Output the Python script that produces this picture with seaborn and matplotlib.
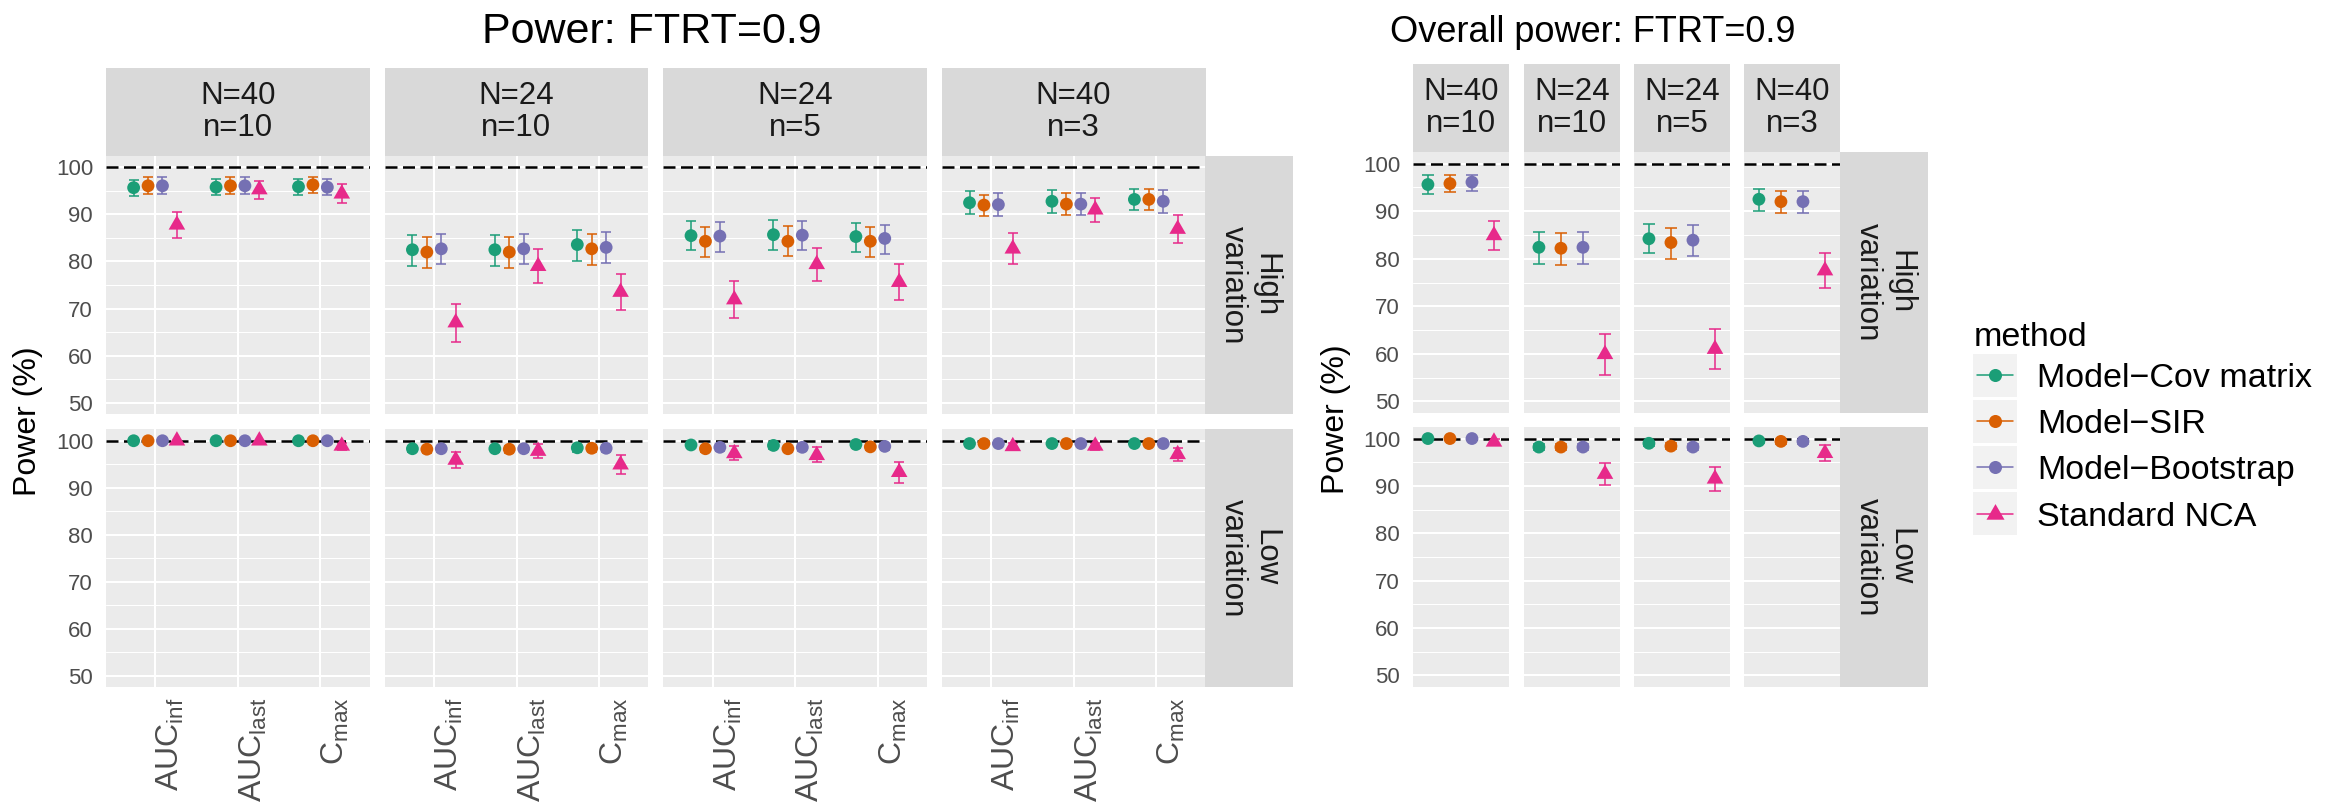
import numpy as np
import pandas as pd
import matplotlib
matplotlib.use("Agg")
import matplotlib.pyplot as plt
from matplotlib.lines import Line2D
from matplotlib.patches import Rectangle
import seaborn as sns

sns.set_style("white")
plt.rcParams["font.family"] = ["Liberation Sans", "DejaVu Sans"]
plt.rcParams["mathtext.fontset"] = "custom"
plt.rcParams["mathtext.rm"] = "Liberation Sans"
plt.rcParams["mathtext.it"] = "Liberation Sans:italic"

# ---------------------------------------------------------------- data
designs = ["N=40\nn=10", "N=24\nn=10", "N=24\nn=5", "N=40\nn=3"]
variations = ["High", "Low"]
params = [r"AUC$_{\mathrm{inf}}$", r"AUC$_{\mathrm{last}}$", r"C$_{\mathrm{max}}$"]
methods = ["Model\u2212Cov matrix", "Model\u2212SIR", "Model\u2212Bootstrap", "Standard NCA"]
colors = ["#1B9E77", "#D95F02", "#7570B3", "#E7298A"]

# Power (%) per PK parameter: one row per design, columns AUCinf, AUClast, Cmax
cov_high     = [[95.7, 95.8, 95.9], [82.5, 82.5, 83.6], [85.5, 85.7, 85.3], [92.5, 92.8, 93.2]]
cov_high_lo  = [[94.0, 94.1, 94.1], [79.1, 79.1, 80.1], [82.4, 82.5, 82.0], [90.1, 90.3, 90.9]]
cov_high_hi  = [[97.4, 97.5, 97.5], [85.7, 85.7, 86.7], [88.6, 88.8, 88.2], [94.9, 95.1, 95.5]]
sir_high     = [[96.1, 96.1, 96.3], [82.0, 82.0, 82.7], [84.3, 84.3, 84.3], [92.0, 92.2, 93.2]]
sir_high_lo  = [[94.3, 94.3, 94.6], [78.7, 78.7, 79.3], [81.0, 81.2, 81.0], [89.6, 89.8, 90.9]]
sir_high_hi  = [[97.9, 97.9, 98.0], [85.3, 85.3, 85.9], [87.3, 87.6, 87.3], [94.2, 94.5, 95.5]]
boot_high    = [[96.1, 96.1, 95.8], [82.7, 82.7, 83.0], [85.4, 85.6, 84.9], [92.1, 92.2, 92.8]]
boot_high_lo = [[94.3, 94.4, 94.1], [79.4, 79.4, 79.6], [82.1, 82.4, 81.6], [89.7, 89.8, 90.3]]
boot_high_hi = [[97.9, 97.9, 97.5], [85.9, 85.9, 86.2], [88.4, 88.6, 87.8], [94.5, 94.5, 95.1]]
nca_high     = [[87.8, 95.3, 94.4], [67.0, 79.0, 73.5], [71.9, 79.4, 75.6], [82.7, 91.0, 86.9]]
nca_high_lo  = [[84.9, 93.3, 92.4], [62.8, 75.4, 69.6], [67.9, 75.8, 71.8], [79.4, 88.4, 84.0]]
nca_high_hi  = [[90.6, 97.2, 96.5], [71.0, 82.6, 77.4], [75.8, 82.9, 79.5], [86.0, 93.4, 89.8]]

cov_low      = [[100.0, 100.0, 100.0], [98.3, 98.3, 98.5], [99.1, 99.0, 99.2], [99.4, 99.4, 99.4]]
cov_low_lo   = [[99.6, 99.6, 99.6], [97.5, 97.5, 97.7], [98.4, 98.3, 98.5], [98.8, 98.8, 98.8]]
cov_low_hi   = [[100.0, 100.0, 100.0], [98.9, 98.9, 99.1], [99.6, 99.5, 99.6], [99.8, 99.8, 99.8]]
sir_low      = [[100.0, 100.0, 100.0], [98.2, 98.2, 98.4], [98.3, 98.3, 98.7], [99.4, 99.4, 99.4]]
sir_low_lo   = [[99.6, 99.6, 99.6], [97.4, 97.4, 97.6], [97.5, 97.5, 98.0], [98.8, 98.8, 98.8]]
sir_low_hi   = [[100.0, 100.0, 100.0], [98.8, 98.8, 99.0], [98.9, 98.9, 99.3], [99.8, 99.8, 99.8]]
boot_low     = [[100.0, 100.0, 100.0], [98.3, 98.3, 98.4], [98.6, 98.6, 98.8], [99.4, 99.4, 99.4]]
boot_low_lo  = [[99.6, 99.6, 99.6], [97.5, 97.5, 97.6], [97.9, 97.9, 98.1], [98.8, 98.8, 98.8]]
boot_low_hi  = [[100.0, 100.0, 100.0], [98.9, 98.9, 99.0], [99.2, 99.2, 99.4], [99.8, 99.8, 99.8]]
nca_low      = [[100.0, 100.0, 98.9], [95.9, 97.8, 94.9], [97.3, 96.9, 93.3], [98.8, 98.9, 97.1]]
nca_low_lo   = [[99.6, 99.6, 98.1], [94.1, 96.4, 93.0], [96.0, 95.4, 91.1], [98.0, 98.1, 95.6]]
nca_low_hi   = [[100.0, 100.0, 99.5], [97.6, 99.2, 96.9], [98.9, 98.6, 95.4], [99.5, 99.6, 98.5]]

# Overall power (%): one value per design
cov_all      = [95.6, 82.4, 84.2, 92.5]
cov_all_lo   = [93.7, 78.9, 81.1, 90.0]
cov_all_hi   = [97.5, 85.6, 87.3, 94.6]
sir_all      = [95.8, 82.2, 83.4, 92.0]
sir_all_lo   = [94.1, 78.6, 79.9, 89.6]
sir_all_hi   = [97.6, 85.4, 86.5, 94.2]
boot_all     = [96.1, 82.4, 83.9, 92.0]
boot_all_lo  = [94.2, 78.9, 80.6, 89.6]
boot_all_hi  = [97.7, 85.6, 87.1, 94.2]
nca_all      = [84.9, 59.9, 61.0, 77.5]
nca_all_lo   = [81.8, 55.6, 56.8, 73.8]
nca_all_hi   = [88.0, 64.2, 65.2, 81.3]

cov_all_low     = [100.0, 98.2, 99.0, 99.5]
cov_all_low_lo  = [99.6, 97.5, 98.4, 99.0]
cov_all_low_hi  = [100.0, 98.8, 99.5, 99.9]
sir_all_low     = [100.0, 98.2, 98.4, 99.4]
sir_all_low_lo  = [99.6, 97.5, 97.7, 98.9]
sir_all_low_hi  = [100.0, 98.8, 99.0, 99.8]
boot_all_low    = [100.0, 98.2, 98.2, 99.4]
boot_all_low_lo = [99.6, 97.5, 97.5, 98.9]
boot_all_low_hi = [100.0, 98.8, 98.8, 99.8]
nca_all_low     = [99.3, 92.5, 91.5, 96.9]
nca_all_low_lo  = [98.6, 90.2, 89.0, 95.2]
nca_all_low_hi  = [99.9, 94.8, 94.0, 98.6]

# ---------------------------------------------------------------- tables
param_tables = {
    ("High", methods[0]): (cov_high, cov_high_lo, cov_high_hi),
    ("High", methods[1]): (sir_high, sir_high_lo, sir_high_hi),
    ("High", methods[2]): (boot_high, boot_high_lo, boot_high_hi),
    ("High", methods[3]): (nca_high, nca_high_lo, nca_high_hi),
    ("Low", methods[0]): (cov_low, cov_low_lo, cov_low_hi),
    ("Low", methods[1]): (sir_low, sir_low_lo, sir_low_hi),
    ("Low", methods[2]): (boot_low, boot_low_lo, boot_low_hi),
    ("Low", methods[3]): (nca_low, nca_low_lo, nca_low_hi),
}
overall_tables = {
    ("High", methods[0]): (cov_all, cov_all_lo, cov_all_hi),
    ("High", methods[1]): (sir_all, sir_all_lo, sir_all_hi),
    ("High", methods[2]): (boot_all, boot_all_lo, boot_all_hi),
    ("High", methods[3]): (nca_all, nca_all_lo, nca_all_hi),
    ("Low", methods[0]): (cov_all_low, cov_all_low_lo, cov_all_low_hi),
    ("Low", methods[1]): (sir_all_low, sir_all_low_lo, sir_all_low_hi),
    ("Low", methods[2]): (boot_all_low, boot_all_low_lo, boot_all_low_hi),
    ("Low", methods[3]): (nca_all_low, nca_all_low_lo, nca_all_low_hi),
}

rec = []
for (var, m), (pw, lo, hi) in param_tables.items():
    for di, d in enumerate(designs):
        for pi in range(len(params)):
            rec.append(dict(design=d, variation=var, method=m, param=pi,
                            power=pw[di][pi], lo=lo[di][pi], hi=hi[di][pi]))
param_df = pd.DataFrame(rec)

rec = []
for (var, m), (pw, lo, hi) in overall_tables.items():
    for di, d in enumerate(designs):
        rec.append(dict(design=d, variation=var, method=m, param=0,
                        power=pw[di], lo=lo[di], hi=hi[di]))
overall_df = pd.DataFrame(rec)

# position dodging (ggplot-like)
def dodge(width):
    n = len(methods)
    return {m: (i - (n - 1) / 2) * width / n for i, m in enumerate(methods)}

param_df["x"] = param_df["param"] + param_df["method"].map(dodge(0.7))
overall_df["x"] = overall_df["param"] + overall_df["method"].map(dodge(1.1))

palette = dict(zip(methods, colors))
tri = [(0.0, 1.0), (-0.866, -0.5), (0.866, -0.5)]
marker_map = {m: ("o" if i < 3 else tri) for i, m in enumerate(methods)}
size_map = {m: (85 if i < 3 else 190) for i, m in enumerate(methods)}

# ---------------------------------------------------------------- figure
W, H = 2340, 802
fig = plt.figure(figsize=(W / 100, H / 100), dpi=100)


def add_px(x0, y0, x1, y1):
    return fig.add_axes([x0 / W, 1 - y1 / H, (x1 - x0) / W, (y1 - y0) / H])


PANEL_BG = "#EBEBEB"
STRIP_BG = "#D9D9D9"
STRIP_TXT = "#1A1A1A"
TICK_TXT = "#4D4D4D"


def style_panel(ax, xlim, xticks, show_y, show_x):
    ax.set_facecolor(PANEL_BG)
    for s in ax.spines.values():
        s.set_visible(False)
    ax.set_xlim(*xlim)
    ax.set_ylim(47.5, 102.5)
    ax.set_yticks(np.arange(50, 101, 10))
    ax.set_yticks(np.arange(55, 100, 10), minor=True)
    ax.grid(which="major", axis="y", color="white", lw=1.45)
    ax.grid(which="minor", axis="y", color="white", lw=0.75)
    ax.set_xticks(xticks)
    if len(xticks):
        ax.grid(which="major", axis="x", color="white", lw=1.5)
    ax.set_axisbelow(True)
    ax.tick_params(which="minor", length=0)
    ax.tick_params(axis="y", which="major", length=4.2 if show_y else 0, width=1.1,
                   color="#333333", pad=5, labelsize=16, labelcolor=TICK_TXT,
                   labelleft=show_y)
    if show_x:
        ax.set_xticklabels(params, rotation=90, ha="left", va="top",
                           fontsize=23, color=TICK_TXT)
        ax.tick_params(axis="x", length=4.1, width=1.1, color="#333333", pad=3)
    else:
        ax.tick_params(axis="x", length=0, labelbottom=False)
    ax.set_xlabel("")
    ax.set_ylabel("")


def draw_panel(ax, sub, capsize):
    for m in methods:
        g = sub[sub["method"] == m]
        ax.errorbar(g["x"], g["power"],
                    yerr=[g["power"] - g["lo"], g["hi"] - g["power"]],
                    fmt="none", ecolor=palette[m], elinewidth=1.1,
                    capsize=capsize, capthick=1.1, zorder=2)
    ax.axhline(100, color="black", lw=1.8, dashes=(4.8, 2.2), zorder=3)
    sns.scatterplot(data=sub, x="x", y="power", hue="method", hue_order=methods,
                    palette=palette, style="method", style_order=methods,
                    markers=marker_map, size="method", size_order=methods,
                    sizes=size_map, linewidth=0, legend=False, ax=ax, zorder=4)


def strip(x0, y0, x1, y1, label, rot=0):
    sa = add_px(x0, y0, x1, y1)
    sa.set_facecolor(STRIP_BG)
    for s in sa.spines.values():
        s.set_visible(False)
    sa.set_xticks([])
    sa.set_yticks([])
    sa.text(0.5, 0.5, label, transform=sa.transAxes, ha="center", va="center",
            fontsize=22.5, color=STRIP_TXT, rotation=rot, linespacing=1.1,
            multialignment="center")


# ---- left block: power per PK parameter
L_x0 = [105.8, 384.6, 663.2, 941.7]
L_w = 263.8
L_rows = [(155.7, 414.3), (429.0, 687.3)]
for ci, d in enumerate(designs):
    strip(L_x0[ci], 68.3, L_x0[ci] + L_w, 155.7, d)
    for ri, v in enumerate(variations):
        ax = add_px(L_x0[ci], L_rows[ri][0], L_x0[ci] + L_w, L_rows[ri][1])
        sub = param_df[(param_df["design"] == d) & (param_df["variation"] == v)]
        draw_panel(ax, sub, 3.6)
        style_panel(ax, (-0.6, 2.6), [0, 1, 2], show_y=(ci == 0), show_x=(ri == 1))
for ri, v in enumerate(variations):
    strip(1205.5, L_rows[ri][0], 1293.0, L_rows[ri][1], f"{v}\nvariation", rot=-90)

# ---- right block: overall power
R_x0 = [1412.9, 1523.9, 1633.9, 1743.9]
R_w = 96.1
R_rows = [(151.7, 413.3), (426.7, 687.3)]
for ci, d in enumerate(designs):
    strip(R_x0[ci], 64.3, R_x0[ci] + R_w, 151.7, d)
    for ri, v in enumerate(variations):
        ax = add_px(R_x0[ci], R_rows[ri][0], R_x0[ci] + R_w, R_rows[ri][1])
        sub = overall_df[(overall_df["design"] == d) & (overall_df["variation"] == v)]
        draw_panel(ax, sub, 4.0)
        style_panel(ax, (-0.6, 0.6), [], show_y=(ci == 0), show_x=False)
for ri, v in enumerate(variations):
    strip(1840.0, R_rows[ri][0], 1927.7, R_rows[ri][1], f"{v}\nvariation", rot=-90)

# ---- titles and axis labels
fig.text(652 / W, 1 - 42.7 / H, "Power: FTRT=0.9", ha="center", va="baseline",
         fontsize=31, color="black")
fig.text(1593 / W, 1 - 41.7 / H, "Overall power: FTRT=0.9", ha="center",
         va="baseline", fontsize=26, color="black")
fig.text(28 / W, 1 - 421.5 / H, "Power (%)", rotation=90, ha="center", va="center",
         fontsize=23, color="black")
fig.text(1336 / W, 1 - 419.5 / H, "Power (%)", rotation=90, ha="center", va="center",
         fontsize=23, color="black")

# ---- legend
key_x0, key_x1 = 1973.3, 2016.7
row_c = [375.3, 421.3, 467.3, 513.5]
fig.text(key_x0 / W, 1 - 346 / H, "method", ha="left", va="baseline",
         fontsize=24.5, color="black")
for i, m in enumerate(methods):
    yc = row_c[i]
    fig.add_artist(Rectangle((key_x0 / W, 1 - (yc + 21.5) / H),
                             (key_x1 - key_x0) / W, 43 / H,
                             transform=fig.transFigure, facecolor="#F2F2F2",
                             edgecolor="none"))
    fig.add_artist(Line2D([1976.7 / W, 2013.3 / W], [1 - yc / H] * 2,
                          transform=fig.transFigure, color=colors[i], lw=1.1))
    fig.add_artist(Line2D([(key_x0 + key_x1) / 2 / W], [1 - yc / H],
                          transform=fig.transFigure, color=colors[i], lw=0,
                          marker=marker_map[m], markeredgewidth=0,
                          markersize=9.4 if i < 3 else 15))
    fig.text(2037 / W, 1 - yc / H, m, ha="left", va="center_baseline",
             fontsize=24.5, color="black")

fig.savefig("out.png", dpi=100, facecolor="white")
